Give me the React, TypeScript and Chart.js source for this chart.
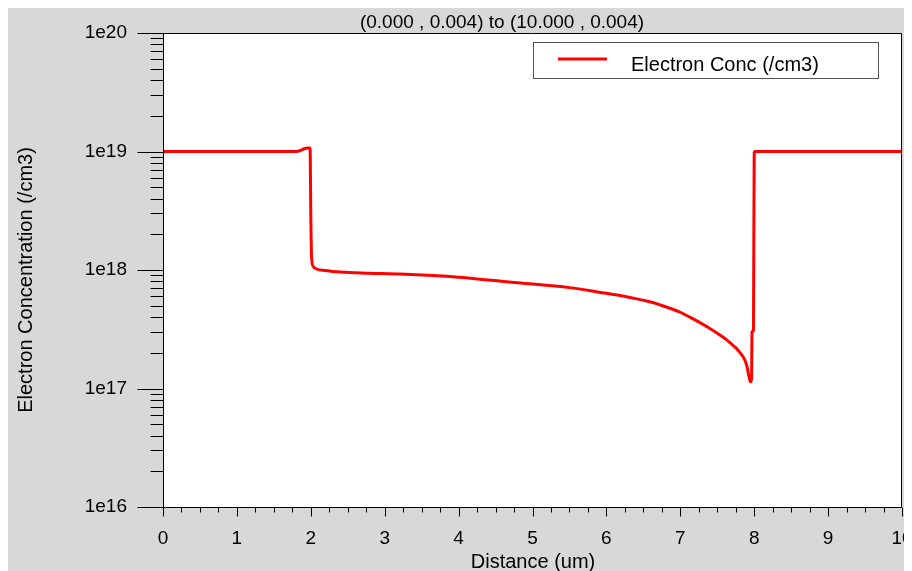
import { useEffect, useRef } from "react";
import { Chart, registerables } from "chart.js";

Chart.register(...registerables);

const distance = [
  0, 1.8, 1.86, 1.9, 1.96, 1.99, 2.0, 2.01, 2.03, 2.08, 2.2, 2.4, 2.8, 3.2, 4.0,
  4.8, 5.5, 5.9, 6.3, 6.6, 6.8, 7.0, 7.13, 7.35, 7.54, 7.62, 7.7, 7.76, 7.81,
  7.85, 7.88, 7.9, 7.92, 7.935, 7.95, 7.96, 7.965, 7.97, 7.99, 8.0, 8.01, 10,
];
const electronConc = [
  1e19, 1e19, 1.02e19, 1.05e19, 1.07e19, 1.07e19, 3e18, 1.3e18, 1.08e18,
  1.02e18, 9.9e17, 9.6e17, 9.4e17, 9.25e17, 8.7e17, 7.8e17, 7.1e17, 6.5e17,
  5.9e17, 5.37e17, 4.9e17, 4.4e17, 4.0e17, 3.35e17, 2.82e17, 2.6e17, 2.35e17,
  2.18e17, 2.0e17, 1.85e17, 1.7e17, 1.55e17, 1.35e17, 1.22e17, 1.14e17,
  1.16e17, 1.25e17, 3.0e17, 3.1e17, 9.8e18, 1e19, 1e19,
];
const xTickValues = [0, 1, 2, 3, 4, 5, 6, 7, 8, 9, 10];
const yDecades = [16, 17, 18, 19, 20];
const titleText = "(0.000 , 0.004) to (10.000 , 0.004)";
const legendLabel = "Electron Conc (/cm3)";
const xAxisTitle = "Distance (um)";
const yAxisTitle = "Electron Concentration (/cm3)";

const FONT = '"Liberation Sans", Arial, sans-serif';

const decorPlugin = {
  id: "decor",
  beforeDatasetsDraw(chart: any) {
    const ctx = chart.ctx as CanvasRenderingContext2D;
    const a = chart.chartArea;
    ctx.save();
    ctx.fillStyle = "#ffffff";
    ctx.fillRect(a.left, a.top, a.right - a.left, a.bottom - a.top);
    ctx.restore();
  },
  afterDraw(chart: any) {
    const ctx = chart.ctx as CanvasRenderingContext2D;
    const a = chart.chartArea;
    const xs = chart.scales.x;
    const ys = chart.scales.y;
    ctx.save();
    ctx.strokeStyle = "#000";
    ctx.lineWidth = 1;
    const L = Math.round(a.left) + 0.5;
    const R = Math.round(a.right) - 0.5;
    const T = Math.round(a.top) + 0.5;
    const B = Math.round(a.bottom) + 0.5;
    ctx.beginPath();
    ctx.moveTo(L, T);
    ctx.lineTo(R, T);
    ctx.lineTo(R, B);
    ctx.lineTo(L, B);
    ctx.closePath();
    ctx.stroke();

    // x ticks (major at integers, minor at quarters)
    const xMin = xTickValues[0];
    const xMax = xTickValues[xTickValues.length - 1];
    ctx.beginPath();
    for (let i = 0; i <= (xMax - xMin) * 4; i++) {
      const v = xMin + i / 4;
      const px = Math.round(xs.getPixelForValue(v)) + 0.5;
      const len = i % 4 === 0 ? 9 : 5;
      ctx.moveTo(px, B);
      ctx.lineTo(px, B + len);
    }
    ctx.stroke();

    // y ticks (log)
    ctx.beginPath();
    for (let k = 0; k < yDecades.length; k++) {
      const d = yDecades[k];
      const maxM = k === yDecades.length - 1 ? 1 : 9;
      for (let m = 1; m <= maxM; m++) {
        const v = m * Math.pow(10, d);
        const py = Math.round(ys.getPixelForValue(v)) + 0.5;
        const len = m === 1 ? 26 : 13;
        ctx.moveTo(L, py);
        ctx.lineTo(L - len, py);
      }
    }
    ctx.stroke();

    // title
    ctx.fillStyle = "#000";
    ctx.font = `19px ${FONT}`;
    ctx.textAlign = "center";
    ctx.textBaseline = "alphabetic";
    ctx.fillText(titleText, 494, 20);

    // legend
    ctx.fillStyle = "#fff";
    ctx.fillRect(525, 34, 345, 36);
    ctx.strokeStyle = "#555";
    ctx.strokeRect(525.5, 34.5, 345, 36);
    ctx.strokeStyle = "#ff0000";
    ctx.lineWidth = 3;
    ctx.beginPath();
    ctx.moveTo(550, 51);
    ctx.lineTo(599, 51);
    ctx.stroke();
    ctx.fillStyle = "#000";
    ctx.font = `20px ${FONT}`;
    ctx.textAlign = "left";
    ctx.fillText(legendLabel, 623, 63);

    // axis titles
    ctx.textAlign = "center";
    ctx.fillText(xAxisTitle, 525, 560);
    ctx.translate(24, 272);
    ctx.rotate(-Math.PI / 2);
    ctx.fillText(yAxisTitle, 0, 0);
    ctx.restore();
  },
};

export default function App() {
  const ref = useRef<HTMLCanvasElement | null>(null);
  useEffect(() => {
    if (!ref.current) return;
    const points = distance.map((x, i) => ({ x, y: electronConc[i] }));
    const chart = new Chart(ref.current, {
      type: "line",
      data: {
        datasets: [
          {
            label: legendLabel,
            data: points,
            borderColor: "#ff0000",
            backgroundColor: "#ff0000",
            borderWidth: 3,
            pointRadius: 0,
            tension: 0,
            cubicInterpolationMode: "monotone",
            fill: false,
          },
        ],
      },
      options: {
        animation: false,
        responsive: false,
        maintainAspectRatio: false,
        layout: { padding: { top: 25, right: 10, left: 0, bottom: 0 } },
        plugins: {
          legend: { display: false },
          title: { display: false },
          tooltip: { enabled: false },
        },
        scales: {
          x: {
            type: "linear",
            min: xTickValues[0],
            max: xTickValues[xTickValues.length - 1],
            grid: { display: false, drawTicks: false },
            border: { display: false },
            afterBuildTicks: (scale: any) => {
              scale.ticks = xTickValues.map((v) => ({ value: v }));
            },
            afterFit: (scale: any) => {
              scale.height = 64;
              scale.paddingLeft = 0;
              scale.paddingRight = 0;
              scale.paddingTop = 0;
              scale.paddingBottom = 0;
            },
            ticks: {
              autoSkip: false,
              maxRotation: 0,
              padding: 20,
              color: "#000",
              font: { family: FONT, size: 19 },
              callback: (v: any) => String(v),
            },
          },
          y: {
            type: "logarithmic",
            min: Math.pow(10, yDecades[0]),
            max: Math.pow(10, yDecades[yDecades.length - 1]),
            grid: { display: false, drawTicks: false },
            border: { display: false },
            afterBuildTicks: (scale: any) => {
              scale.ticks = yDecades.map((d) => ({ value: Math.pow(10, d) }));
            },
            afterFit: (scale: any) => {
              scale.width = 155;
              scale.paddingLeft = 0;
              scale.paddingRight = 0;
              scale.paddingTop = 0;
              scale.paddingBottom = 0;
            },
            ticks: {
              autoSkip: false,
              padding: 36,
              color: "#000",
              font: { family: FONT, size: 19 },
              callback: (v: any) => "1e" + Math.round(Math.log10(Number(v))),
            },
          },
        },
      },
      plugins: [decorPlugin],
    });
    return () => chart.destroy();
  }, []);
  return (
    <div style={{ width: 904, height: 563, background: "#d8d8d8" }}>
      <canvas ref={ref} width={904} height={563} style={{ display: "block" }} />
    </div>
  );
}
